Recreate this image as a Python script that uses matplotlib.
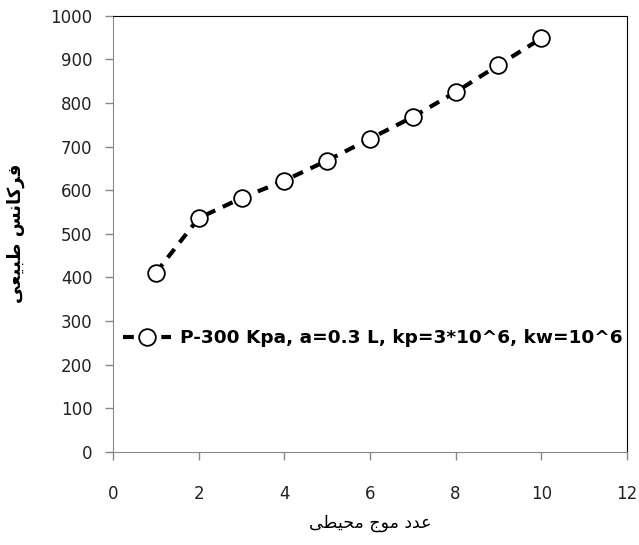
import matplotlib
matplotlib.use('Agg')
import matplotlib.pyplot as plt

# data
wave_num = [1, 2, 3, 4, 5, 6, 7, 8, 9, 10]
freq = [411, 536, 582, 622, 668, 718, 768, 825, 887, 948]
series_label = 'P-300 Kpa, a=0.3 L, kp=3*10^6, kw=10^6'

# Persian labels written in presentation forms, visual (left-to-right) order
# y: "فرکانس طبیعی"   x: "عدد موج محیطی"
ylab = ''.join(reversed('\uFED3\uFEAE\uFB90\uFE8E\uFEE7\uFEB2 \uFEC3\uFE92\uFBFF\uFECC\uFBFD'))
xlab = ''.join(reversed('\uFECB\uFEAA\uFEA9 \uFEE3\uFEEE\uFE9D \uFEE3\uFEA4\uFBFF\uFEC4\uFBFD'))

fig, ax = plt.subplots(figsize=(6.39, 5.45), dpi=100)
fig.subplots_adjust(left=0.177, right=0.981, top=0.971, bottom=0.171)

ax.plot(wave_num, freq, color='black', lw=3.0, ls=(0, (2.6, 2.0)),
        marker='o', ms=12, mfc='white', mec='black', mew=1.3,
        label=series_label)

ax.set_xlim(0, 12)
ax.set_ylim(0, 1000)
ax.set_xticks(range(0, 13, 2))
ax.set_yticks(range(0, 1001, 100))
ax.tick_params(direction='out', length=6, width=1, color='#888888',
               labelsize=12, labelcolor='#222222', pad=9)
ax.tick_params(axis='x', pad=18)
for s in ['left', 'bottom']:
    ax.spines[s].set_color('#888888')
for s in ['top', 'right']:
    ax.spines[s].set_color('black')

ax.set_ylabel(ylab, fontsize=13, fontweight='bold', labelpad=18)
ax.set_xlabel(xlab, fontsize=12.5, labelpad=8)

leg = ax.legend(loc='center left', bbox_to_anchor=(0.005, 0.26), frameon=False,
                handlelength=2.6, handletextpad=0.5, borderaxespad=0.0,
                prop={'weight': 'bold', 'size': 13.3})

plt.savefig('out.png', dpi=100)
